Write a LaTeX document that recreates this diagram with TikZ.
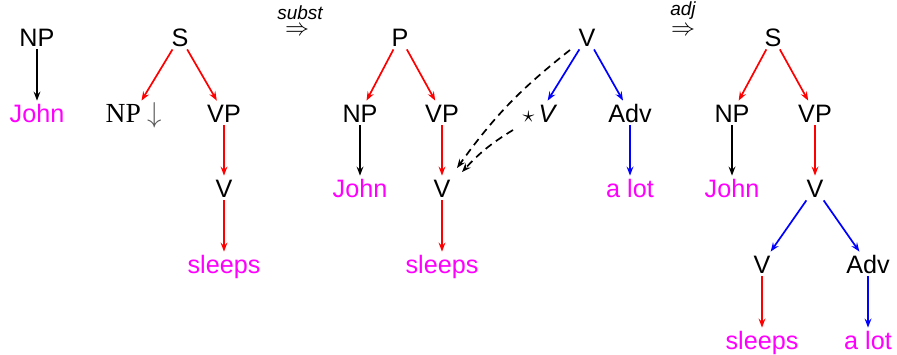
\documentclass[tikz,border=0pt]{standalone}
\usepackage{fontspec}
\setmainfont{Liberation Sans}
\newfontfamily\npserif{Liberation Serif}
\usepackage{tikz}
\usetikzlibrary{arrows.meta, positioning}
\definecolor{wordpink}{RGB}{255,0,255}
\tikzset{
  cat/.style={inner sep=1.5pt, text height=9pt, text depth=0pt, font=\fontsize{12.6}{15}\selectfont},
  word/.style={cat, text=wordpink},
  blackarrow/.style={line width=0.85pt,-{Stealth[length=4.5pt,width=3.4pt,inset=1.6pt]}},
  redarrow/.style={blackarrow, draw=red},
  bluearrow/.style={blackarrow, draw=blue},
  dasharrow/.style={blackarrow, dash pattern=on 3.8pt off 2.6pt},
  opstep/.style={inner sep=0pt, font=\fontsize{12.5}{12.5}\selectfont},
  oplabel/.style={inner sep=0pt, font=\fontsize{9.5}{9.5}\selectfont\itshape}
}
\begin{document}
\begin{tikzpicture}[x=0.5pt, y=-0.5pt]
            \useasboundingbox (0,0) rectangle (897,354);

            % Arbol elemental: John
            \node (np1) [cat] at (37,37) {NP};
            \node (john1) [word] at (37,113) {John};

            % Arbol elemental: sleeps
            \node (s2) [cat] at (180,37) {S};
            \node (np2) [cat] at (134,113) {\npserif\fontsize{13.8}{15}\selectfont NP \textcolor{black!65}{$\downarrow$}};
            \node (vp2) [cat] at (224,113) {VP};
            \node (v2) [cat] at (224,188) {V};
            \node (sleeps2) [word] at (224,264) {sleeps};

            % Sustitucion
            \node (substop) [opstep] at (297,31) {$\Rightarrow$};
            \node (subst) [oplabel, above=3pt of substop, xshift=1.5pt] {subst};

            % Arbol derivado
            \node (p3) [cat] at (400,37) {P};
            \node (np3) [cat] at (360,113) {NP};
            \node (vp3) [cat] at (442,113) {VP};
            \node (john3) [word] at (360,188) {John};
            \node (v3) [cat] at (442,188) {V};
            \node (sleeps3) [word] at (442,264) {sleeps};

            % Arbol auxiliar: a lot
            \node (v4) [cat] at (587,37) {V};
            \node (sv4) [cat] at (540,113) {$\star$\,\textit{V}};
            \node (adv4) [cat] at (630,113) {Adv};
            \node (alot4) [word] at (630,188) {a lot};

            % Adjuncion
            \node (adjop) [opstep] at (683,31) {$\Rightarrow$};
            \node (adj) [oplabel, above=3pt of adjop] {adj};

            % Arbol final
            \node (s5) [cat] at (773,37) {S};
            \node (np5) [cat] at (732,113) {NP};
            \node (vp5) [cat] at (815,113) {VP};
            \node (john5) [word] at (732,188) {John};
            \node (v5) [cat] at (815,188) {V};
            \node (vv5) [cat] at (762,264) {V};
            \node (adv5) [cat] at (868,264) {Adv};
            \node (sleeps5) [word] at (762,340) {sleeps};
            \node (alot5) [word] at (868,340) {a lot};

            % Conexiones
            \draw [blackarrow] (np1) -- (john1);

            \draw [redarrow] (s2) -- (np2);
            \draw [redarrow] (s2) -- (vp2);
            \draw [redarrow] (vp2) -- (v2);
            \draw [redarrow] (v2) -- (sleeps2);

            \draw [redarrow] (p3) -- (np3);
            \draw [redarrow] (p3) -- (vp3);
            \draw [blackarrow] (np3) -- (john3);
            \draw [redarrow] (vp3) -- (v3);
            \draw [redarrow] (v3) -- (sleeps3);

            \draw [bluearrow] (v4) -- (sv4);
            \draw [bluearrow] (v4) -- (adv4);
            \draw [bluearrow] (adv4) -- (alot4);

            % Flechas de la adjuncion
            \draw [dasharrow] ([xshift=-8.5pt,yshift=-6.5pt]v4.center) to[bend right=8] ([xshift=7.5pt,yshift=10pt]v3.center);
            \draw [dasharrow] ([xshift=-13.5pt,yshift=-8.5pt]sv4.center) to[bend right=8] ([xshift=10pt,yshift=8pt]v3.center);

            \draw [redarrow] (s5) -- (np5);
            \draw [redarrow] (s5) -- (vp5);
            \draw [blackarrow] (np5) -- (john5);
            \draw [redarrow] (vp5) -- (v5);
            \draw [bluearrow] (v5) -- (vv5);
            \draw [bluearrow] (v5) -- (adv5);
            \draw [redarrow] (vv5) -- (sleeps5);
            \draw [bluearrow] (adv5) -- (alot5);

\end{tikzpicture}
\end{document}
